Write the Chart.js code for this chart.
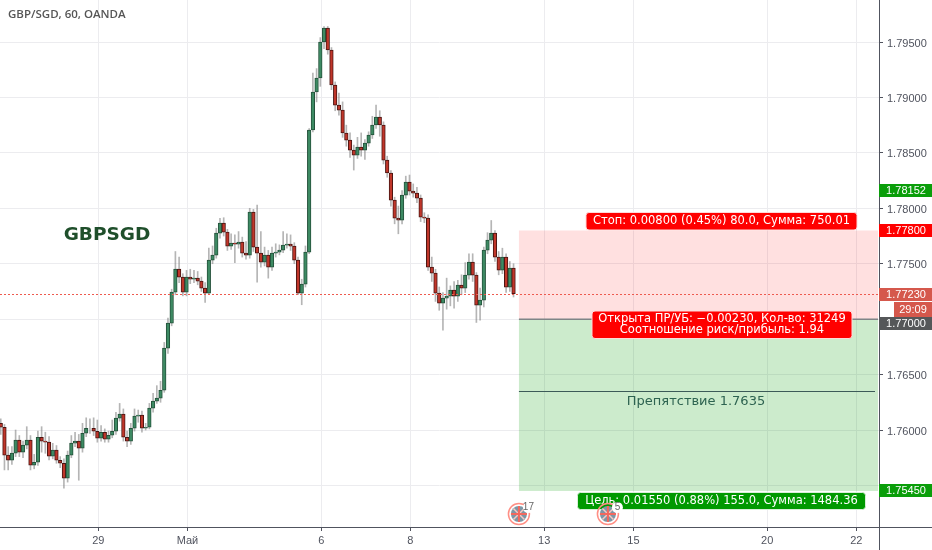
<!DOCTYPE html>
<html>
<head>
<meta charset="utf-8">
<title>GBP/SGD, 60, OANDA</title>
<script src="https://cdn.jsdelivr.net/npm/chart.js@4"></script>
<style>
    html, body { margin: 0; padding: 0; background: #fff; }
    canvas { display: block; }
</style>
</head>
<body>
<canvas id="gbpsgd-chart" width="932" height="550"></canvas>
<script>
// two hour candles
const opens = [1.76060,1.76025,1.75773,1.75727,1.75791,1.75908,1.75800,1.75863,1.75908,1.75682,1.75709,1.75935,1.75899,1.75890,1.75764,1.75818,1.75727,1.75700,1.75565,1.75773,1.75881,1.75899,1.75836,1.75971,1.76016,1.76016,1.75989,1.75926,1.75980,1.75917,1.75953,1.75989,1.76107,1.76143,1.75935,1.75899,1.76016,1.76125,1.76134,1.76016,1.76025,1.76197,1.76260,1.76287,1.76359,1.76738,1.76964,1.77244,1.77451,1.77379,1.77244,1.77379,1.77361,1.77370,1.77343,1.77280,1.77235,1.77532,1.77578,1.77776,1.77866,1.77785,1.77659,1.77686,1.77677,1.77695,1.77596,1.77578,1.77966,1.77650,1.77596,1.77514,1.77578,1.77469,1.77596,1.77605,1.77623,1.77668,1.77677,1.77659,1.77532,1.77235,1.77316,1.77605,1.78706,1.79049,1.79175,1.79500,1.79626,1.79428,1.79112,1.78931,1.78886,1.78679,1.78615,1.78525,1.78480,1.78552,1.78525,1.78588,1.78661,1.78751,1.78823,1.78751,1.78435,1.78318,1.78074,1.77912,1.77893,1.78119,1.78236,1.78155,1.78137,1.78092,1.77921,1.77912,1.77469,1.77415,1.77235,1.77144,1.77190,1.77208,1.77262,1.77208,1.77307,1.77280,1.77397,1.77514,1.77397,1.77126,1.77171,1.77623,1.77713,1.77776,1.77560,1.77442,1.77560,1.77289,1.77460];
const closes = [1.76025,1.75773,1.75727,1.75791,1.75908,1.75800,1.75863,1.75908,1.75682,1.75709,1.75935,1.75899,1.75890,1.75764,1.75818,1.75727,1.75700,1.75565,1.75773,1.75881,1.75899,1.75836,1.75971,1.76016,1.76016,1.75989,1.75926,1.75980,1.75917,1.75953,1.75989,1.76107,1.76143,1.75935,1.75899,1.76016,1.76125,1.76134,1.76016,1.76025,1.76197,1.76260,1.76287,1.76359,1.76738,1.76964,1.77244,1.77451,1.77379,1.77244,1.77379,1.77361,1.77370,1.77343,1.77280,1.77235,1.77532,1.77578,1.77776,1.77866,1.77785,1.77659,1.77686,1.77677,1.77695,1.77596,1.77578,1.77966,1.77650,1.77596,1.77514,1.77578,1.77469,1.77596,1.77605,1.77623,1.77668,1.77677,1.77659,1.77532,1.77235,1.77316,1.77605,1.78706,1.79049,1.79175,1.79500,1.79626,1.79428,1.79112,1.78931,1.78886,1.78679,1.78615,1.78525,1.78480,1.78552,1.78525,1.78588,1.78661,1.78751,1.78823,1.78751,1.78435,1.78318,1.78074,1.77912,1.77893,1.78119,1.78236,1.78155,1.78137,1.78092,1.77921,1.77912,1.77469,1.77415,1.77235,1.77144,1.77190,1.77208,1.77262,1.77208,1.77307,1.77280,1.77397,1.77514,1.77397,1.77126,1.77171,1.77623,1.77713,1.77776,1.77560,1.77442,1.77560,1.77289,1.77460,1.77230];
const highs = [1.76100,1.76050,1.75850,1.75850,1.76000,1.75950,1.75900,1.76030,1.75950,1.75780,1.75990,1.76030,1.75980,1.75940,1.75880,1.75860,1.75760,1.75740,1.75810,1.75950,1.75980,1.75960,1.76060,1.76110,1.76100,1.76110,1.76090,1.76040,1.76010,1.75990,1.76090,1.76160,1.76240,1.76190,1.75990,1.76060,1.76190,1.76180,1.76170,1.76060,1.76240,1.76330,1.76400,1.76440,1.76790,1.77010,1.77270,1.77610,1.77560,1.77410,1.77440,1.77450,1.77440,1.77430,1.77380,1.77330,1.77640,1.77660,1.77820,1.77910,1.77915,1.77810,1.77770,1.77760,1.77790,1.77740,1.77700,1.78000,1.77990,1.78030,1.77790,1.77650,1.77620,1.77650,1.77680,1.77670,1.77790,1.77770,1.77760,1.77690,1.77560,1.77360,1.77660,1.78720,1.79220,1.79260,1.79540,1.79640,1.79640,1.79450,1.79140,1.79040,1.78960,1.78750,1.78680,1.78570,1.78640,1.78680,1.78620,1.78690,1.78830,1.78930,1.78880,1.78780,1.78470,1.78340,1.78100,1.78020,1.78160,1.78290,1.78300,1.78220,1.78190,1.78120,1.77960,1.77940,1.77560,1.77450,1.77290,1.77240,1.77370,1.77300,1.77340,1.77350,1.77400,1.77510,1.77590,1.77590,1.77420,1.77280,1.77650,1.77780,1.77890,1.77800,1.77610,1.77640,1.77590,1.77520,1.77500];
const lows = [1.75960,1.75640,1.75640,1.75690,1.75760,1.75760,1.75750,1.75830,1.75640,1.75650,1.75680,1.75800,1.75790,1.75730,1.75740,1.75700,1.75660,1.75475,1.75530,1.75750,1.75850,1.75547,1.75800,1.75940,1.75970,1.75950,1.75890,1.75900,1.75890,1.75890,1.75930,1.75960,1.76080,1.75900,1.75850,1.75870,1.75990,1.76070,1.75980,1.76000,1.76010,1.76160,1.76240,1.76250,1.76340,1.76690,1.76940,1.77220,1.77330,1.77210,1.77210,1.77320,1.77330,1.77310,1.77250,1.77150,1.77220,1.77500,1.77550,1.77730,1.77750,1.77620,1.77630,1.77510,1.77640,1.77560,1.77540,1.77550,1.77610,1.77334,1.77470,1.77480,1.77370,1.77440,1.77560,1.77580,1.77600,1.77640,1.77620,1.77500,1.77220,1.77130,1.77290,1.77590,1.78690,1.78960,1.79100,1.79440,1.79390,1.79070,1.78880,1.78840,1.78640,1.78560,1.78460,1.78345,1.78450,1.78470,1.78440,1.78560,1.78630,1.78720,1.78650,1.78400,1.78280,1.78020,1.77860,1.77770,1.77860,1.78090,1.78120,1.78100,1.78050,1.77880,1.77870,1.77440,1.77340,1.77160,1.77080,1.76900,1.77090,1.77120,1.77100,1.77160,1.77220,1.77240,1.77360,1.77340,1.76970,1.76990,1.77110,1.77590,1.77680,1.77520,1.77400,1.77410,1.77240,1.77250,1.77200];

const firstCandleHour = -52.5;
const candleHours = 2;

// x axis is bar hours since 29th, weekends are squeezed out like on the original
const dayHours = [0, 48, 120, 168, 240, 288, 360, 408];
const dayLabels = ['29', 'Май', '6', '8', '13', '15', '20', '22'];
const priceTicks = [1.795, 1.79, 1.785, 1.78, 1.775, 1.77, 1.765, 1.76, 1.755];
// these two sit behind the price tags
const hiddenPriceLabels = [1.77, 1.755];

const lastPrice = 1.7723;
const stopPrice = 1.778;
const entryPrice = 1.77;
const targetPrice = 1.7545;
const obstaclePrice = 1.7635;
const zoneStartHour = 226.4;
const eventHours = [226.4, 274.3];
const eventCounts = ['17', '5'];

const RED = '#c0362a', GREEN = '#3d8a63', RED_EDGE = '#4a1512', GREEN_EDGE = '#24523b';
const FONT = '"DejaVu Sans", sans-serif';
const AXIS_FONT = '"Liberation Sans", sans-serif';

const hours = closes.map((c, i) => firstCandleHour + i * candleHours);

function roundBox(ctx, x, y, w, h, r, fill, stroke) {
    ctx.beginPath();
    ctx.roundRect(x, y, w, h, r);
    ctx.fillStyle = fill;
    ctx.fill();
    if (stroke) {
        ctx.strokeStyle = stroke;
        ctx.lineWidth = 1;
        ctx.stroke();
    }
}

function text(ctx, str, x, y, font, color, align) {
    ctx.font = font;
    ctx.fillStyle = color;
    ctx.textAlign = align || 'center';
    ctx.textBaseline = 'middle';
    ctx.fillText(str, x, y);
}

function priceTag(ctx, label, yTop, color) {
    ctx.fillStyle = color;
    ctx.fillRect(879, yTop, 53, 13);
    text(ctx, label, 906, yTop + 6.5, '11px ' + AXIS_FONT, '#fff');
}

// shaded zones sit under the candles
const zones = {
    id: 'zones',
    beforeDatasetsDraw(chart) {
        const { ctx, scales: { x, y } } = chart;
        const left = x.getPixelForValue(zoneStartHour);
        const right = 878;
        ctx.save();
        ctx.fillStyle = 'rgba(255, 0, 0, 0.12)';
        ctx.fillRect(left, y.getPixelForValue(stopPrice), right - left, y.getPixelForValue(entryPrice) - y.getPixelForValue(stopPrice));
        ctx.fillStyle = 'rgba(0, 153, 0, 0.2)';
        ctx.fillRect(left, y.getPixelForValue(entryPrice), right - left, y.getPixelForValue(targetPrice) - y.getPixelForValue(entryPrice));
        ctx.restore();
    }
};

const overlays = {
    id: 'overlays',
    afterDraw(chart) {
        const { ctx, scales: { x, y } } = chart;
        const left = x.getPixelForValue(zoneStartHour);
        ctx.save();

        // axis lines
        ctx.strokeStyle = '#50535e';
        ctx.lineWidth = 1;
        ctx.beginPath();
        ctx.moveTo(879.5, 0);
        ctx.lineTo(879.5, 550);
        ctx.moveTo(0, 527.5);
        ctx.lineTo(932, 527.5);
        ctx.stroke();

        // last price line
        const lastY = Math.round(y.getPixelForValue(lastPrice)) + 0.5;
        ctx.strokeStyle = '#ee5a4f';
        ctx.setLineDash([2, 2]);
        ctx.beginPath();
        ctx.moveTo(0, lastY);
        ctx.lineTo(879, lastY);
        ctx.stroke();
        ctx.setLineDash([]);

        // entry and obstacle lines
        const entryY = y.getPixelForValue(entryPrice);
        ctx.strokeStyle = '#7f8587';
        ctx.lineWidth = 1.5;
        ctx.beginPath();
        ctx.moveTo(left, entryY);
        ctx.lineTo(878, entryY);
        ctx.stroke();
        const obstacleY = Math.round(y.getPixelForValue(obstaclePrice)) + 0.5;
        ctx.strokeStyle = '#3c5a58';
        ctx.lineWidth = 1;
        ctx.beginPath();
        ctx.moveTo(left, obstacleY);
        ctx.lineTo(875, obstacleY);
        ctx.stroke();
        text(ctx, 'Препятствие 1.7635', 696, obstacleY + 10.5, '13px ' + FONT, '#2d6350');

        // text over the chart
        text(ctx, 'GBP/SGD, 60, OANDA', 8, 15, '600 11.5px "Open Sans", sans-serif', '#555', 'left');
        text(ctx, 'GBPSGD', 107, 235, 'bold 18.5px ' + FONT, '#1f4f2b');

        // order labels
        roundBox(ctx, 586, 212.5, 271, 17.5, 3, '#ff0000', '#ffd9d9');
        text(ctx, 'Стоп: 0.00800 (0.45%) 80.0, Сумма: 750.01', 721.5, 221.5, '11.5px ' + FONT, '#fff');
        roundBox(ctx, 592, 311, 260, 27.5, 3, '#ff0000', '#ffd9d9');
        text(ctx, 'Открыта ПР/УБ: −0.00230, Кол-во: 31249', 722, 319.5, '11.5px ' + FONT, '#fff');
        text(ctx, 'Соотношение риск/прибыль: 1.94', 722, 330.5, '11.5px ' + FONT, '#fff');
        roundBox(ctx, 577.5, 492.5, 288, 17, 3, '#009900', '#d8efd8');
        text(ctx, 'Цель: 0.01550 (0.88%) 155.0, Сумма: 1484.36', 721.5, 501, '11.5px ' + FONT, '#fff');

        // price tags on the right axis
        priceTag(ctx, '1.78152', 184, '#0a9e0a');
        priceTag(ctx, '1.77800', 224, '#ff0000');
        priceTag(ctx, '1.77230', 288, '#d5584c');
        ctx.fillStyle = '#d5584c';
        ctx.fillRect(894, 302, 38, 15);
        text(ctx, '29:09', 913, 309.5, '11px ' + AXIS_FONT, '#fff');
        priceTag(ctx, '1.77000', 317, '#555759');
        priceTag(ctx, '1.75450', 484, '#0a9e0a');

        // news markers
        eventHours.forEach((hour, i) => {
            const cx = x.getPixelForValue(hour);
            const cy = 514;
            ctx.beginPath();
            ctx.arc(cx, cy, 10.5, 0, Math.PI * 2);
            ctx.strokeStyle = '#ff8f85';
            ctx.lineWidth = 1.5;
            ctx.stroke();
            ctx.beginPath();
            ctx.arc(cx, cy, 8, 0, Math.PI * 2);
            ctx.fillStyle = '#7d97a6';
            ctx.fill();
            ctx.strokeStyle = '#f9c8c3';
            ctx.lineWidth = 1.5;
            ctx.beginPath();
            ctx.moveTo(cx - 5.5, cy - 5.5);
            ctx.lineTo(cx + 5.5, cy + 5.5);
            ctx.moveTo(cx + 5.5, cy - 5.5);
            ctx.lineTo(cx - 5.5, cy + 5.5);
            ctx.stroke();
            ctx.strokeStyle = '#f2685e';
            ctx.lineWidth = 2;
            ctx.beginPath();
            ctx.moveTo(cx - 8, cy);
            ctx.lineTo(cx + 8, cy);
            ctx.moveTo(cx, cy - 8);
            ctx.lineTo(cx, cy + 8);
            ctx.stroke();
            ctx.beginPath();
            ctx.arc(cx + 9.5, cy - 6.5, 5.5, 0, Math.PI * 2);
            ctx.fillStyle = '#fff';
            ctx.fill();
            text(ctx, eventCounts[i], cx + 9.5, cy - 6.5, '10px ' + AXIS_FONT, '#666');
        });
        ctx.restore();
    }
};

const config = {
    type: 'bar',
    data: {
        datasets: [{
            label: 'body',
            data: hours.map((h, i) => ({ x: h, y: [opens[i], closes[i]] })),
            backgroundColor: closes.map((c, i) => c >= opens[i] ? GREEN : RED),
            borderColor: closes.map((c, i) => c >= opens[i] ? GREEN_EDGE : RED_EDGE),
            borderWidth: 1,
            borderSkipped: false,
            barThickness: 3.6,
            order: 1
        }, {
            label: 'wick',
            data: hours.map((h, i) => ({ x: h, y: [lows[i], highs[i]] })),
            backgroundColor: 'rgba(120, 120, 120, 0.55)',
            borderWidth: 0,
            barThickness: 1,
            order: 2
        }]
    },
    options: {
        responsive: false,
        animation: false,
        layout: { padding: 0 },
        plugins: {
            legend: { display: false },
            tooltip: { enabled: false }
        },
        datasets: { bar: { grouped: false } },
        scales: {
            x: {
                type: 'linear',
                min: -52.9,
                max: 420.2,
                offset: false,
                afterFit: (scale) => {
                    scale.height = 23;
                    scale.paddingLeft = 0;
                    scale.paddingRight = 0;
                },
                afterBuildTicks: (scale) => { scale.ticks = dayHours.map(v => ({ value: v })); },
                grid: { offset: false, color: '#ececef', tickColor: '#50535e', tickLength: 4 },
                border: { display: false },
                ticks: {
                    autoSkip: false,
                    maxRotation: 0,
                    padding: 3,
                    color: '#50535e',
                    font: { family: 'Liberation Sans', size: 11 },
                    callback: (value) => dayLabels[dayHours.indexOf(value)]
                }
            },
            y: {
                position: 'right',
                min: 1.75125,
                max: 1.79879,
                afterFit: (scale) => {
                    scale.width = 53;
                    scale.paddingTop = 0;
                    scale.paddingBottom = 0;
                },
                afterBuildTicks: (scale) => { scale.ticks = priceTicks.map(v => ({ value: v })); },
                grid: { color: '#ececef', tickColor: '#50535e', tickLength: 4 },
                border: { display: false },
                ticks: {
                    autoSkip: false,
                    padding: 4,
                    labelOffset: 1.5,
                    color: '#50535e',
                    font: { family: 'Liberation Sans', size: 11 },
                    callback: (value) => hiddenPriceLabels.includes(value) ? '' : value.toFixed(5)
                }
            }
        }
    },
    plugins: [zones, overlays]
};

new Chart(document.getElementById('gbpsgd-chart'), config);
</script>
</body>
</html>
